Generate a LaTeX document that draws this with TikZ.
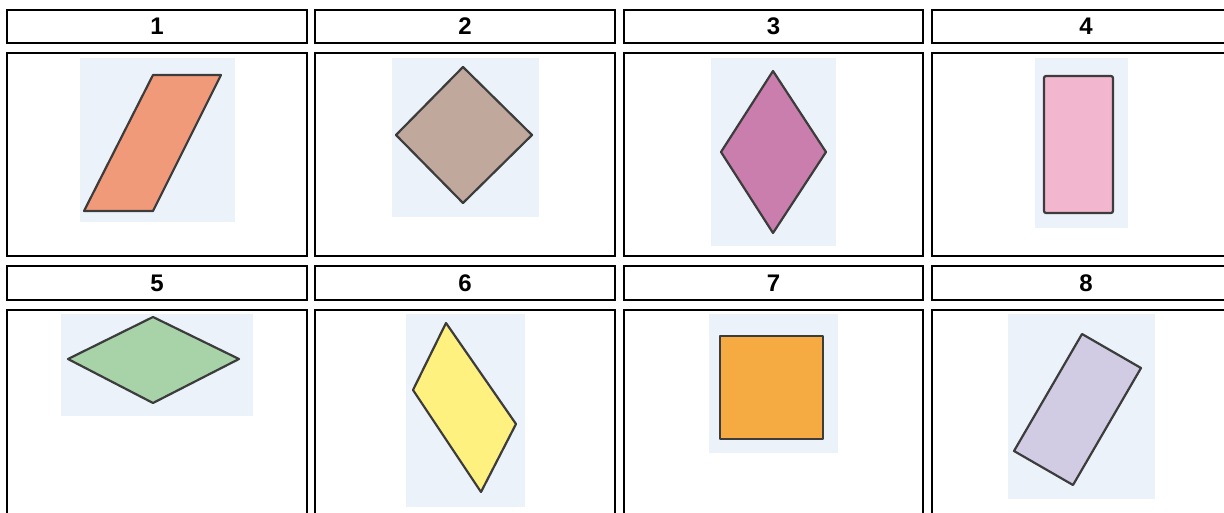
\documentclass[tikz,border=0pt]{standalone}
\usepackage{fontspec}
\setmainfont{Liberation Sans}
\definecolor{bgc}{HTML}{EBF2F9}
\definecolor{edgec}{HTML}{3C3C3C}
\definecolor{c1}{HTML}{F19A7A}
\definecolor{c2}{HTML}{C1A89D}
\definecolor{c3}{HTML}{CA7EAE}
\definecolor{c4}{HTML}{F2B6CF}
\definecolor{c5}{HTML}{A8D3A9}
\definecolor{c6}{HTML}{FFF17F}
\definecolor{c7}{HTML}{F5AA42}
\definecolor{c8}{HTML}{D1CCE4}
\tikzset{
  hdr/.style={draw=black, line width=2.8pt, minimum height=33pt, inner sep=0pt,
    font=\fontsize{24}{24}\selectfont\bfseries},
  cell/.style={draw=black, line width=2.8pt, inner sep=0pt},
  bgbox/.style={fill=bgc},
  shp/.style={draw=edgec, line width=2.2pt, line join=round}
}
\begin{document}
\begin{tikzpicture}[x=1pt,y=-1pt]
\useasboundingbox (0,0) rectangle (1224,513);
\clip (0,0) rectangle (1224,513);
% headers row 1
\node[hdr, minimum width=300pt] (h1) at (157,26.5) {1};
\node[hdr, minimum width=300pt] (h2) at (465,26.5) {2};
\node[hdr, minimum width=299pt] (h3) at (773.5,26.5) {3};
\node[hdr, minimum width=308pt] (h4) at (1086,26.5) {4};
% cells row 1
\node[cell, minimum width=300pt, minimum height=203pt] (b1) at (157,154.5) {};
\node[cell, minimum width=300pt, minimum height=203pt] (b2) at (465,154.5) {};
\node[cell, minimum width=299pt, minimum height=203pt] (b3) at (773.5,154.5) {};
\node[cell, minimum width=308pt, minimum height=203pt] (b4) at (1086,154.5) {};
% headers row 2
\node[hdr, minimum width=300pt, minimum height=34pt] (h5) at (157,283) {5};
\node[hdr, minimum width=300pt, minimum height=34pt] (h6) at (465,283) {6};
\node[hdr, minimum width=299pt, minimum height=34pt] (h7) at (773.5,283) {7};
\node[hdr, minimum width=308pt, minimum height=34pt] (h8) at (1086,283) {8};
% cells row 2
\node[cell, minimum width=300pt, minimum height=220pt] (b5) at (157,420) {};
\node[cell, minimum width=300pt, minimum height=220pt] (b6) at (465,420) {};
\node[cell, minimum width=299pt, minimum height=220pt] (b7) at (773.5,420) {};
\node[cell, minimum width=308pt, minimum height=220pt] (b8) at (1086,420) {};
% backgrounds
\fill[bgbox] (80,58) rectangle (235,222);
\fill[bgbox] (392,58) rectangle (539,217);
\fill[bgbox] (711,58) rectangle (836,246);
\fill[bgbox] (1035,58) rectangle (1128,228);
\fill[bgbox] (61,314) rectangle (253,416);
\fill[bgbox] (406,314) rectangle (525,507);
\fill[bgbox] (709,314) rectangle (838,453);
\fill[bgbox] (1008,314) rectangle (1155,499);
% shapes
\filldraw[shp, fill=c1] (153,75) -- (221,75) -- (153,211) -- (84,211) -- cycle;
\filldraw[shp, fill=c2] (463,67) -- (532,135) -- (463,203) -- (396,135) -- cycle;
\filldraw[shp, fill=c3] (773,71) -- (826,152) -- (773,233) -- (721,152) -- cycle;
\filldraw[shp, fill=c4, rounded corners=2pt] (1044,76) rectangle (1113,213);
\filldraw[shp, fill=c5] (153,317) -- (239,359) -- (153,403) -- (68,359) -- cycle;
\filldraw[shp, fill=c6] (446,323) -- (516,424) -- (481,492) -- (413,390) -- cycle;
\filldraw[shp, fill=c7] (720,336) rectangle (823,439);
\filldraw[shp, fill=c8] (1082,334) -- (1141,368) -- (1073,485) -- (1014,451) -- cycle;
\end{tikzpicture}
\end{document}
